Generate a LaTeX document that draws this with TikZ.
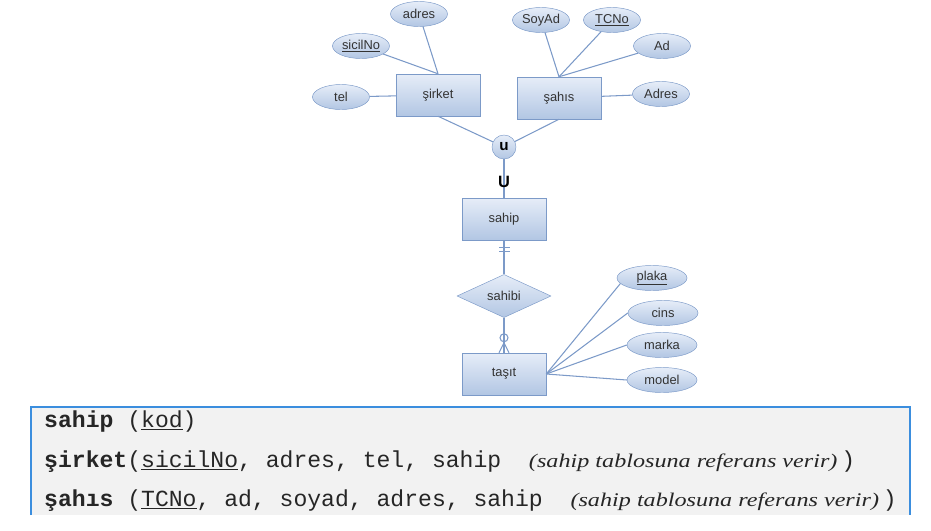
\documentclass[tikz,border=0pt]{standalone}
\usepackage{fontspec}
\setmainfont{Liberation Sans}
\setmonofont{Liberation Mono}
\newfontfamily\notefont{Liberation Serif Italic}[FakeStretch=1.25]
\usepackage{tikz}
\usetikzlibrary{arrows.meta,positioning,calc,shapes.geometric}
\definecolor{erline}{HTML}{7C9AC8}
\definecolor{ertop}{HTML}{E6EDF8}
\definecolor{erbot}{HTML}{B2C6E3}
\definecolor{ertext}{HTML}{333333}
\definecolor{panel}{HTML}{F2F2F2}
\definecolor{panelline}{HTML}{3B8EDE}
\newcommand{\rel}[1]{\textbf{#1}}
\newcommand{\note}[1]{{\notefont\fontsize{16.5}{18}\selectfont #1}}

\begin{document}
\begin{tikzpicture}[x=.03cm,y=-.03cm,font=\fontsize{11}{13}\selectfont,
  ent/.style={draw=erline,top color=ertop,bottom color=erbot,
    minimum width=2.52cm,minimum height=1.26cm,text=ertext},
  att/.style={ellipse,draw=erline,top color=ertop,bottom color=erbot,
    minimum width=1.71cm,minimum height=.75cm,inner sep=0pt,text=ertext},
  wide/.style={att,minimum width=2.1cm},
  relship/.style={diamond,draw=erline,top color=ertop,bottom color=erbot,
    minimum width=2.82cm,minimum height=1.26cm,inner sep=0pt,text=ertext},
  link/.style={draw=erline,line width=.9pt},
  row/.style={anchor=base west,inner sep=0pt,text=black!85,
    font=\ttfamily\fontsize{19.7}{22}\selectfont}]
 \useasboundingbox (0,0) rectangle (931,530);

 % code panel
 \fill[panel] (31,407) rectangle (910,515);
 \draw[panelline,line width=1.2pt] (31,515) -- (31,407) -- (910,407) -- (910,515);
 \node[row] (r1) at (44,427) {\rel{sahip} (\underline{kod})};
 \node[row] (r2) at (44,467) {\rel{şirket}(\underline{sicilNo}, adres, tel, sahip~~\note{(sahip tablosuna referans verir)}\,)};
 \node[row] (r3) at (44,506) {\rel{şahıs} (\underline{TCNo}, ad, soyad, adres, sahip~~\note{(sahip tablosuna referans verir)}\,)};

 % entities
 \node[ent] (sirket) at (438,95) {şirket};
 \node[ent] (sahis) at (559,98) {şahıs};
 \node[circle,draw=erline,top color=ertop,bottom color=erbot,minimum size=.72cm,
   inner sep=0pt,font=\bfseries\fontsize{13}{13}\selectfont] (union) at (504,147) {u};
 \node[ent] (sahip) at (504,219) {sahip};
 \node[relship] (sahibi) at (504,296) {sahibi};
 \node[ent] (tasit) at (504,374) {taşıt};

 % attributes
 \node[att] (adres) at (419,14) {adres};
 \node[att] (sicil) at (361,46) {\underline{sicilNo}};
 \node[att] (tel) at (341,97) {tel};
 \node[att] (soyad) at (541,20) {SoyAd};
 \node[att] (tcno) at (612,20) {\underline{TCNo}};
 \node[att] (ad) at (662,46) {Ad};
 \node[att] (adres2) at (661,94) {Adres};
 \node[wide] (plaka) at (652,278) {\underline{plaka}};
 \node[wide] (cins) at (663,313) {cins};
 \node[wide] (marka) at (662,345) {marka};
 \node[wide] (model) at (662,380) {model};

 \draw[link] (adres) -- (sirket.north);
 \draw[link] (sicil) -- (sirket.north);
 \draw[link] (tel) -- (sirket);
 \draw[link] (soyad) -- (sahis.north);
 \draw[link] (tcno) -- (sahis.north);
 \draw[link] (ad) -- (sahis.north);
 \draw[link] (adres2) -- (sahis);
 \draw[link] (sirket.south) -- (union);
 \draw[link] (sahis.south) -- (union);
 \draw[link] (union) -- (sahip)
   node[pos=.6,font=\bfseries\fontsize{14}{14}\selectfont,inner sep=0pt] (subset) {U};

 % 1 -- 0..n
 \draw[link] (sahip) -- (sahibi);
 \draw[link] ($(sahip.south)+(-5,7)$) -- +(11,0);
 \draw[link] ($(sahip.south)+(-5,11)$) -- +(11,0);
 \draw[link] (sahibi) -- (tasit);
 \draw[link] ($(tasit.north)+(0,-15)$) circle[radius=4];
 \draw[link] ($(tasit.north)+(-5,0)$) -- ($(tasit.north)+(0,-10)$) -- ($(tasit.north)+(5,0)$);

 \draw[link] (tasit.east) -- (plaka.190);
 \draw[link] (tasit.east) -- (cins.west);
 \draw[link] (tasit.east) -- (marka.west);
 \draw[link] (tasit.east) -- (model.west);
\end{tikzpicture}
\end{document}
